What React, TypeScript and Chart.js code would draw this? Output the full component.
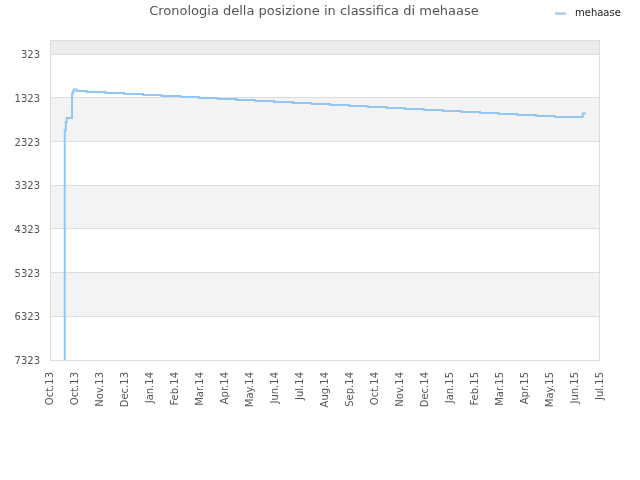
import React, { useEffect, useRef } from 'react';
import { Chart, registerables } from 'chart.js';

Chart.register(...registerables);

const chartTitle = 'Cronologia della posizione in classifica di mehaase';
const seriesName = 'mehaase';

// x tick labels, one per axis unit
const tickLabels = [
  'Oct.13', 'Oct.13', 'Nov.13', 'Dec.13', 'Jan.14', 'Feb.14', 'Mar.14', 'Apr.14',
  'May.14', 'Jun.14', 'Jul.14', 'Aug.14', 'Sep.14', 'Oct.14', 'Nov.14', 'Dec.14',
  'Jan.15', 'Feb.15', 'Mar.15', 'Apr.15', 'May.15', 'Jun.15', 'Jul.15',
];

const yTicks = [323, 1323, 2323, 3323, 4323, 5323, 6323, 7323];

// position in the ranking
const rankX = [
  0.59, 0.63, 0.67, 0.88, 0.92, 0.95, 1.07, 1.47, 2.22, 2.97, 3.72, 4.46,
  5.22, 5.96, 6.71, 7.46, 8.21, 8.96, 9.71, 10.46, 11.21, 11.96, 12.71, 13.46,
  14.2, 14.95, 15.7, 16.45, 17.2, 17.95, 18.7, 19.45, 20.2, 20.95, 21.31, 21.44,
];
const rankY = [
  7323, 2066, 1876, 1784, 1225, 1172, 1133, 1165, 1188, 1211, 1234, 1257,
  1280, 1303, 1326, 1349, 1372, 1395, 1418, 1441, 1464, 1487, 1510, 1533,
  1556, 1579, 1602, 1625, 1648, 1671, 1694, 1717, 1740, 1763, 1763, 1683,
];

const lineColor = 'rgb(148,198,245)';

// grey bands behind the plot, border, title and legend
const bandPlugin = {
  id: 'bands',
  beforeDraw(chart: any) {
    const { ctx, chartArea, scales } = chart;
    const y = scales.y;
    const bands: [number, number, string][] = [
      [0, 323, '#ececec'],
      [1323, 2323, '#f3f3f3'],
      [3323, 4323, '#f3f3f3'],
      [5323, 6323, '#f3f3f3'],
    ];
    ctx.save();
    bands.forEach(([a, b, c]) => {
      const y1 = y.getPixelForValue(a);
      const y2 = y.getPixelForValue(b);
      ctx.fillStyle = c;
      ctx.fillRect(chartArea.left, y1, chartArea.right - chartArea.left, y2 - y1);
    });
    ctx.restore();
  },
  afterDraw(chart: any) {
    const { ctx, chartArea } = chart;
    ctx.save();
    ctx.strokeStyle = '#dddddd';
    ctx.lineWidth = 1;
    ctx.strokeRect(chartArea.left + 0.5, chartArea.top + 0.5, chartArea.right - chartArea.left - 1, chartArea.bottom - chartArea.top);
    // title
    ctx.font = '13px "DejaVu Sans"';
    ctx.fillStyle = '#555555';
    ctx.textAlign = 'center';
    ctx.textBaseline = 'middle';
    ctx.fillText(chartTitle, 314, 12);
    // legend
    ctx.strokeStyle = lineColor;
    ctx.lineWidth = 2;
    ctx.beginPath();
    ctx.moveTo(555, 13.5);
    ctx.lineTo(566, 13.5);
    ctx.stroke();
    ctx.font = '10px "DejaVu Sans"';
    ctx.fillStyle = '#222222';
    ctx.textAlign = 'left';
    ctx.fillText(seriesName, 575, 13);
    ctx.restore();
  },
};

const App: React.FC = () => {
  const canvasRef = useRef<HTMLCanvasElement | null>(null);

  useEffect(() => {
    const ctx = canvasRef.current?.getContext('2d');
    if (!ctx) return;
    Chart.defaults.font.family = '"DejaVu Sans"';

    const chart = new Chart(ctx, {
      type: 'line',
      data: {
        datasets: [
          {
            label: seriesName,
            data: rankX.map((x, i) => ({ x, y: rankY[i] })),
            borderColor: lineColor,
            borderWidth: 2,
            pointRadius: 0,
            stepped: 'after',
            fill: false,
          },
        ],
      },
      options: {
        responsive: false,
        animation: false,
        layout: { padding: { top: 40, right: 40, left: 0, bottom: 0 } },
        plugins: {
          legend: { display: false },
          title: { display: false },
          tooltip: { enabled: false },
        },
        scales: {
          x: {
            type: 'linear',
            min: 0,
            max: 22,
            grid: { display: false },
            border: { display: false },
            ticks: {
              stepSize: 1,
              autoSkip: false,
              maxRotation: 90,
              minRotation: 90,
              padding: 4,
              color: '#555555',
              font: { size: 10 },
              callback: (v: any) => tickLabels[Math.round(Number(v))] ?? '',
            },
            afterFit: (s: any) => {
              s.height = 120;
            },
          },
          y: {
            type: 'linear',
            reverse: true,
            min: 0,
            max: 7323,
            grid: { color: '#dddddd', drawTicks: false },
            border: { display: false },
            ticks: {
              padding: 10,
              labelOffset: 1.5,
              color: '#555555',
              font: { size: 10 },
              callback: (v: any) => String(v),
            },
            afterBuildTicks: (s: any) => {
              s.ticks = yTicks.map((value) => ({ value }));
            },
            afterFit: (s: any) => {
              s.width = 50;
            },
          },
        },
      },
      plugins: [bandPlugin],
    });

    return () => chart.destroy();
  }, []);

  return (
    <div style={{ position: 'absolute', left: 0, top: 0, width: 640, height: 480 }}>
      <canvas ref={canvasRef} width={640} height={480} />
    </div>
  );
};

export default App;
